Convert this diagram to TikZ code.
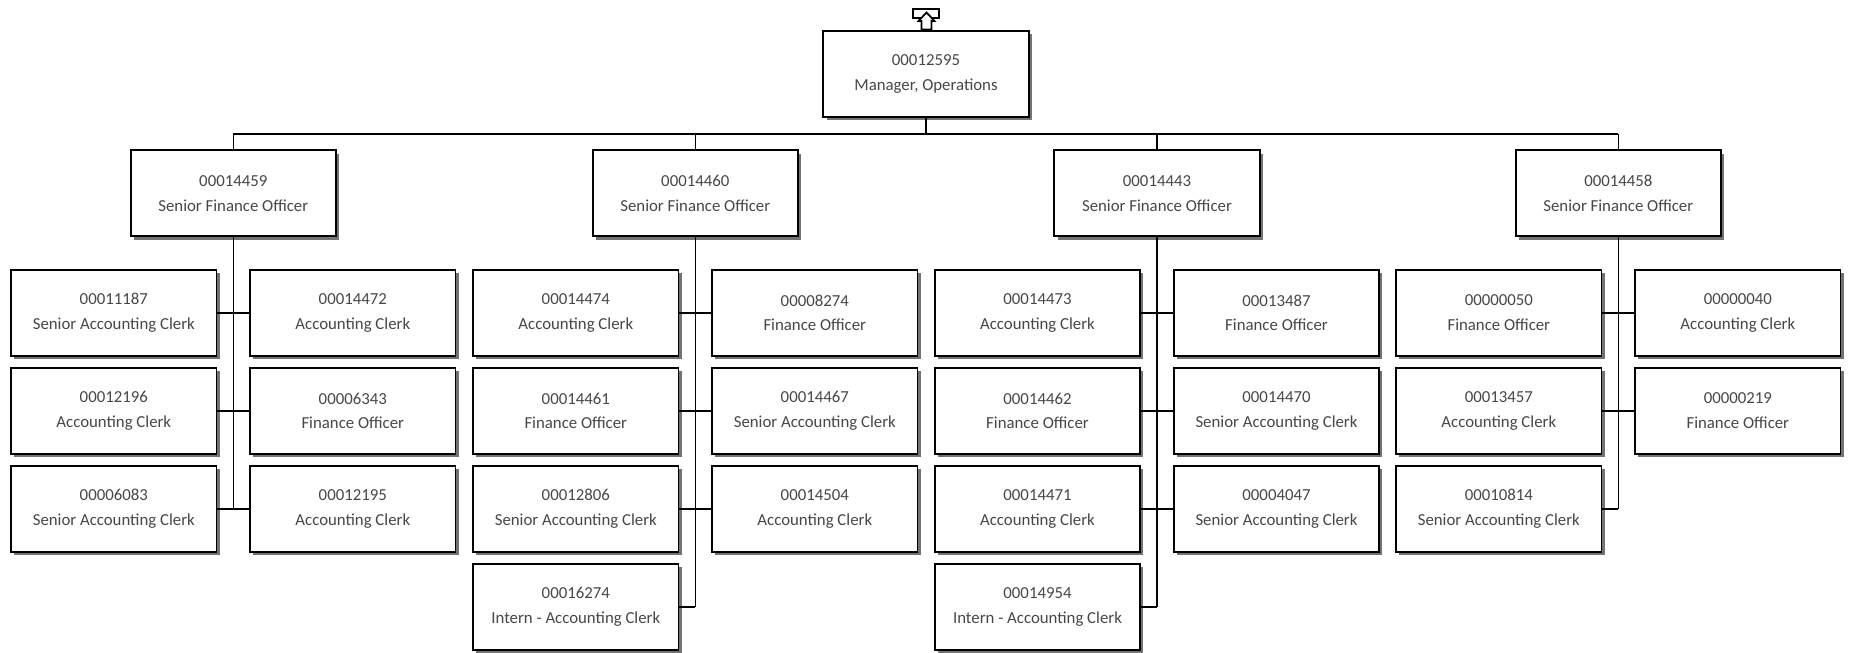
\documentclass[tikz,border=0pt]{standalone}
\usepackage{fontspec}
\setmainfont{Carlito}
\usetikzlibrary{shadows}
\begin{document}
\begin{tikzpicture}[x=0.75pt,y=-0.75pt,
  box/.style={draw=black, line width=1.3pt, fill=white,
    minimum width=154pt, minimum height=64.5pt, inner sep=0pt, align=center,
    font=\fontsize{12.6}{18.6}\selectfont, text=black!72,
    execute at begin node={\rule{0pt}{12.4pt}},
    drop shadow={shadow xshift=2.4pt, shadow yshift=-2.4pt, fill=black!55, opacity=1}},
  link/.style={line width=1.2pt, draw=black},
  icon/.style={line width=1.3pt, draw=black, fill=white}]
\useasboundingbox (0,0) rectangle (1849,653);

% top
\node[box] (top) at (926,74) {00012595\\Manager, Operations};
\draw[icon] (913,9) rectangle (939,18);
\draw[icon] (926.5,12.5) -- (934.5,21) -- (931.5,21) -- (931.5,29.5) -- (921.5,29.5) -- (921.5,21) -- (918.5,21) -- cycle;

% seniors
\node[box] (s1) at (233.3,193.3) {00014459\\Senior Finance Officer};
\node[box] (s2) at (695.3,193.3) {00014460\\Senior Finance Officer};
\node[box] (s3) at (1157,193.3) {00014443\\Senior Finance Officer};
\node[box] (s4) at (1618.3,193.3) {00014458\\Senior Finance Officer};

% column 1
\node[box] (a1) at (113.8,312.8) {00011187\\Senior Accounting Clerk};
\node[box] (a2) at (113.8,410.8) {00012196\\Accounting Clerk};
\node[box] (a3) at (113.8,508.8) {00006083\\Senior Accounting Clerk};
\node[box] (b1) at (352.8,312.8) {00014472\\Accounting Clerk};
\node[box] (b2) at (352.8,410.8) {00006343\\Finance Officer};
\node[box] (b3) at (352.8,508.8) {00012195\\Accounting Clerk};

% column 2
\node[box] (c1) at (575.8,312.8) {00014474\\Accounting Clerk};
\node[box] (c2) at (575.8,410.8) {00014461\\Finance Officer};
\node[box] (c3) at (575.8,508.8) {00012806\\Senior Accounting Clerk};
\node[box] (c4) at (575.8,606.8) {00016274\\Intern - Accounting Clerk};
\node[box] (d1) at (814.8,312.8) {00008274\\Finance Officer};
\node[box] (d2) at (814.8,410.8) {00014467\\Senior Accounting Clerk};
\node[box] (d3) at (814.8,508.8) {00014504\\Accounting Clerk};

% column 3
\node[box] (e1) at (1037.5,312.8) {00014473\\Accounting Clerk};
\node[box] (e2) at (1037.5,410.8) {00014462\\Finance Officer};
\node[box] (e3) at (1037.5,508.8) {00014471\\Accounting Clerk};
\node[box] (e4) at (1037.5,606.8) {00014954\\Intern - Accounting Clerk};
\node[box] (f1) at (1276.5,312.8) {00013487\\Finance Officer};
\node[box] (f2) at (1276.5,410.8) {00014470\\Senior Accounting Clerk};
\node[box] (f3) at (1276.5,508.8) {00004047\\Senior Accounting Clerk};

% column 4
\node[box] (g1) at (1498.8,312.8) {00000050\\Finance Officer};
\node[box] (g2) at (1498.8,410.8) {00013457\\Accounting Clerk};
\node[box] (g3) at (1498.8,508.8) {00010814\\Senior Accounting Clerk};
\node[box] (h1) at (1737.8,312.8) {00000040\\Accounting Clerk};
\node[box] (h2) at (1737.8,410.8) {00000219\\Finance Officer};

% bus
\coordinate (busL) at (233.3,134);
\coordinate (busR) at (1618.3,134);
\draw[link] (busL) -- (busR);
\draw[link] (top.south) -- (top.south |- busL);
\foreach \s in {s1,s2,s3,s4} \draw[link] (\s.north) -- (\s.north |- busL);

% column lines
\draw[link] (s1.south) -- (s1.south |- a3.east);
\draw[link] (s2.south) -- (s2.south |- c4.east);
\draw[link] (s3.south) -- (s3.south |- e4.east);
\draw[link] (s4.south) -- (s4.south |- g3.east);

% row links
\draw[link] (a1.east) -- (b1.west);
\draw[link] (a2.east) -- (b2.west);
\draw[link] (a3.east) -- (b3.west);
\draw[link] (c1.east) -- (d1.west);
\draw[link] (c2.east) -- (d2.west);
\draw[link] (c3.east) -- (d3.west);
\draw[link] (c4.east) -- (c4.east -| s2.south);
\draw[link] (e1.east) -- (f1.west);
\draw[link] (e2.east) -- (f2.west);
\draw[link] (e3.east) -- (f3.west);
\draw[link] (e4.east) -- (e4.east -| s3.south);
\draw[link] (g1.east) -- (h1.west);
\draw[link] (g2.east) -- (h2.west);
\draw[link] (g3.east) -- (g3.east -| s4.south);
\end{tikzpicture}
\end{document}
